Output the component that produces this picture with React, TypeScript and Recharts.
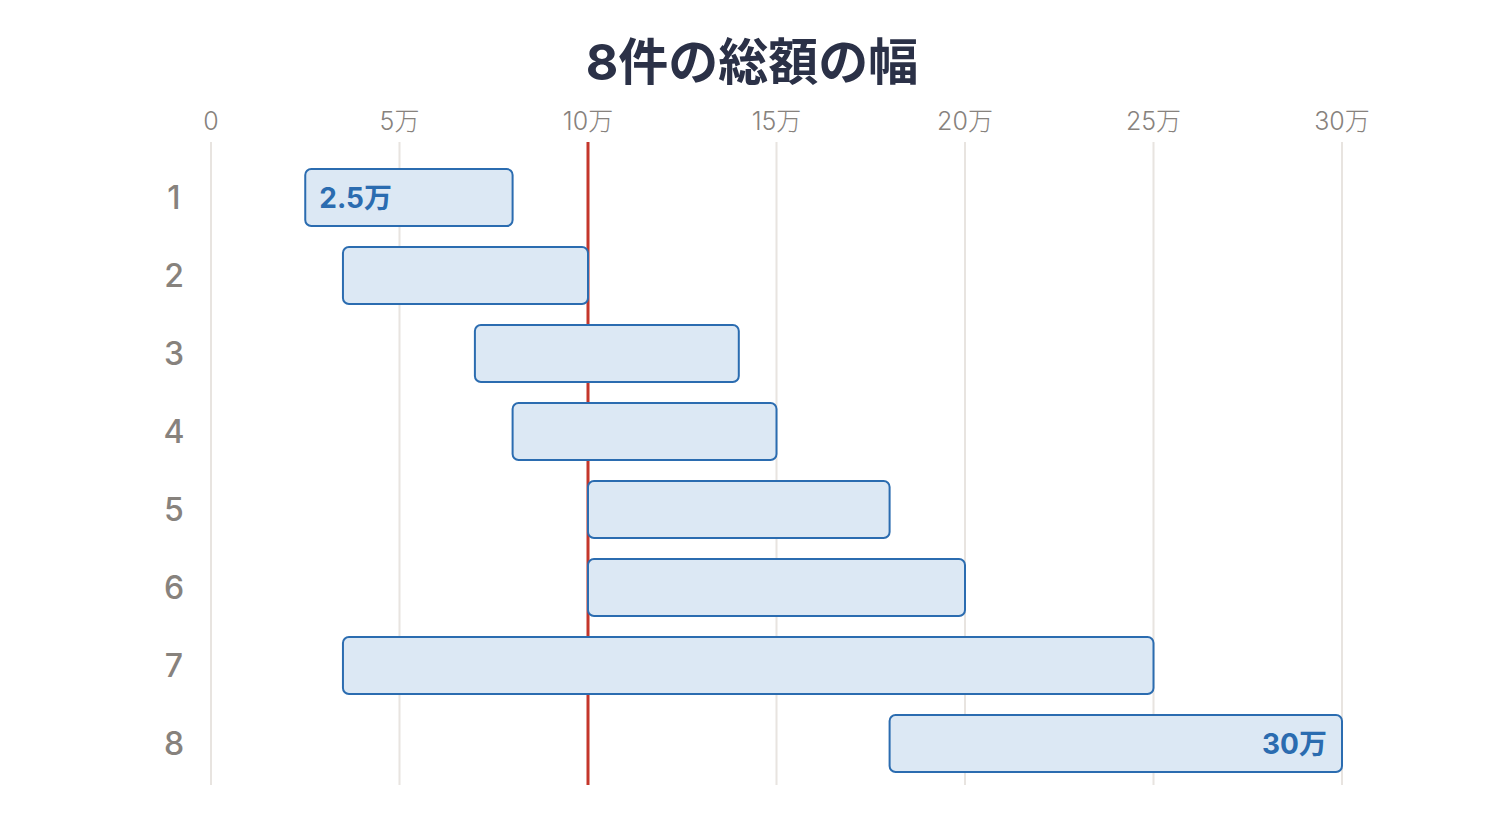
import React from "react";
import {
  BarChart,
  Bar,
  XAxis,
  YAxis,
  CartesianGrid,
  ReferenceLine,
  LabelList,
} from "recharts";

if (typeof document !== "undefined") document.body.style.margin = "0";

const rows = ["1", "2", "3", "4", "5", "6", "7", "8"];
const lows = [2.5, 3.5, 7, 8, 10, 10, 3.5, 18];
const highs = [8, 10, 14, 15, 18, 20, 25, 30];
const xTicks = [0, 5, 10, 15, 20, 25, 30];
const refValue = 10;

const FONT = 'Inter, "Noto Sans CJK JP", sans-serif';
const BLUE = "#2b6cb0";
const GREY = "#87827d";

const minLow = Math.min(...lows);
const maxHigh = Math.max(...highs);

const data = rows.map((row, i) => ({
  row,
  range: [lows[i], highs[i]],
  low: lows[i],
  high: highs[i],
}));

const fmt = (v: number) => (v === 0 ? "0" : `${v}万`);

function XTick(props: any) {
  const { x, y, payload } = props;
  return (
    <text
      x={x}
      y={y - 19}
      textAnchor="middle"
      dominantBaseline="central"
      fontSize={25}
      fontWeight={300}
      fill={GREY}
      fontFamily={FONT}
    >
      {fmt(payload.value)}
    </text>
  );
}

function YTick(props: any) {
  const { x, y, payload } = props;
  return (
    <text
      x={x - 35}
      y={y}
      textAnchor="middle"
      dominantBaseline="central"
      fontSize={32}
      fontWeight={500}
      fill={GREY}
      fontFamily={FONT}
    >
      {payload.value}
    </text>
  );
}

// only the lowest start and the highest end get a label
function EdgeLabel(props: any) {
  const { x, y, width, height, index } = props;
  const d = data[index];
  const cy = y + height / 2;
  const out = [];
  if (d.low === minLow) {
    out.push(
      <text key="l" x={x + 14} y={cy} textAnchor="start" dominantBaseline="central"
        fontSize={28} fontWeight={700} fill={BLUE} fontFamily={FONT}>
        {fmt(d.low)}
      </text>
    );
  }
  if (d.high === maxHigh) {
    out.push(
      <text key="h" x={x + width - 15} y={cy} textAnchor="end" dominantBaseline="central"
        fontSize={28} fontWeight={700} fill={BLUE} fontFamily={FONT}>
        {fmt(d.high)}
      </text>
    );
  }
  return <g>{out}</g>;
}

export default function App() {
  return (
    <div style={{ position: "relative", width: 1504, height: 830, background: "#fff" }}>
      <div
        style={{
          position: "absolute",
          top: 27,
          left: 0,
          width: 1504,
          textAlign: "center",
          fontFamily: FONT,
          fontWeight: 700,
          fontSize: 50,
          color: "#2b3147",
          lineHeight: "70px",
        }}
      >
        8件の総額の幅
      </div>
      <BarChart
        width={1504}
        height={830}
        data={data}
        layout="vertical"
        margin={{ top: 100, right: 162, bottom: 45, left: 0 }}
        barSize={57}
      >
        <CartesianGrid horizontal={false} stroke="#e8e4e0" strokeWidth={2} />
        <XAxis
          type="number"
          orientation="top"
          domain={[0, 30]}
          ticks={xTicks}
          height={42}
          axisLine={false}
          tickLine={false}
          tickSize={0}
          tick={<XTick />}
          interval={0}
        />
        <YAxis
          type="category"
          dataKey="row"
          width={211}
          axisLine={false}
          tickLine={false}
          tickSize={0}
          tick={<YTick />}
          padding={{ top: 16, bottom: 3 }}
        />
        <ReferenceLine x={refValue} stroke="#c4362b" strokeWidth={3} zIndex={250} />
        <Bar
          dataKey="range"
          fill="#dce8f4"
          stroke={BLUE}
          strokeWidth={2}
          radius={6}
          isAnimationActive={false}
        >
          <LabelList dataKey="range" content={<EdgeLabel />} />
        </Bar>
      </BarChart>
    </div>
  );
}
